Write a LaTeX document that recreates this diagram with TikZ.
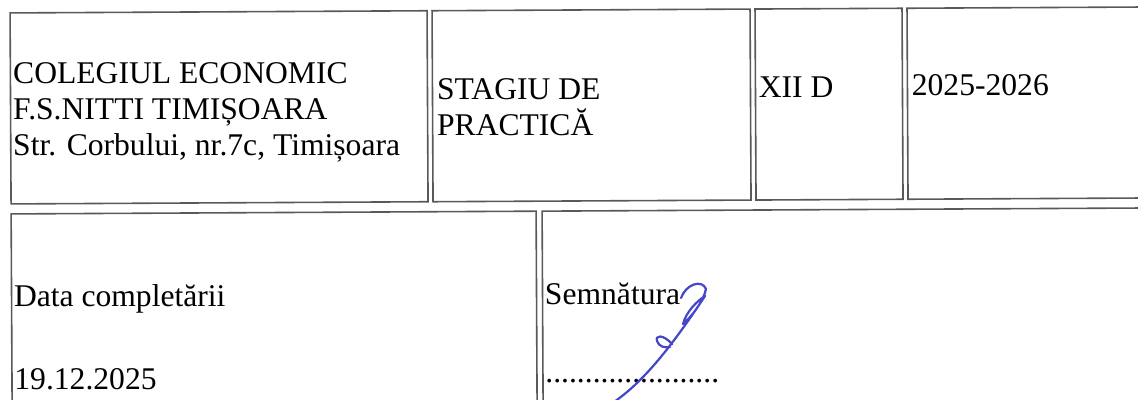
\documentclass[tikz,border=0pt]{standalone}
\usepackage{fontspec}
\setmainfont{Liberation Serif}
\usepackage{tikz}
\usetikzlibrary{positioning}
\definecolor{inkblue}{RGB}{70,70,200}

\begin{document}
\begin{tikzpicture}[x=0.5pt, y=-0.5pt,
    cell/.style={draw=black!65, line width=0.8pt},
    ctext/.style={anchor=base west, inner sep=0pt, align=left, font=\fontsize{15.8}{18}\selectfont},
    sig/.style={draw=inkblue, line width=1.1pt, line cap=round, line join=round}]

    \useasboundingbox (0,0) rectangle (1138,400);
    \clip (0,0) rectangle (1138,400);

    \begin{scope}[rotate=0.3]
    % top row
    \draw[cell] (10,13) rectangle (427,204);
    \draw[cell] (432,13) rectangle (750,204);
    \draw[cell] (755,13) rectangle (902,204);
    \draw[cell] (907,13) rectangle (1170,204);

    % base of a multi-line node is its last line
    \node[ctext] (school) at (12,156) {COLEGIUL ECONOMIC\\F.S.NITTI TIMIȘOARA\\Str. Corbului, nr.7c, Timișoara};
    \node[ctext] (stage) at (436,138) {STAGIU DE\\PRACTICĂ};
    \node[ctext] (class) at (758,101) {XII D};
    \node[ctext] (year) at (911,100) {2025-2026};

    % bottom row
    \draw[cell] (10,214) rectangle (535,430);
    \draw[cell] (541,214) rectangle (1170,430);

    \node[ctext] (datelbl) at (12,307) {Data completării};
    \node[ctext] (date) at (12,390) {19.12.2025};
    \node[ctext] (signlbl) at (543,307) {Semnătura};
    \node[ctext] (dots) at (543,385) {......................};
    \end{scope}

    % signature
    \draw[sig] (681,298) .. controls (686,284) and (702,279) .. (706,289)
        .. controls (703,303) and (690,318) .. (683,324)
        .. controls (686,312) and (697,301) .. (705,296)
        .. controls (668,352) and (640,385) .. (611,404);
    \draw[sig] (672,344) .. controls (663,334) and (655,335) .. (657,341)
        .. controls (659,347) and (665,348) .. (670,347);

\end{tikzpicture}
\end{document}
